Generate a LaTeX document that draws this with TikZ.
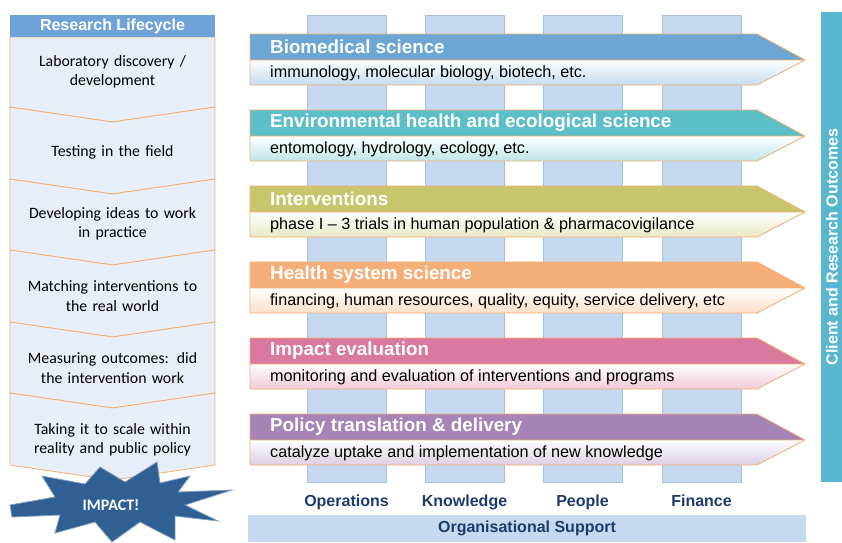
\documentclass[tikz,border=0pt]{standalone}
\usepackage{fontspec}
\setmainfont{Liberation Sans}
\newfontfamily\calfont{Carlito}
\definecolor{pillarblue}{HTML}{C6D9F0}
\definecolor{pillarline}{HTML}{A6C0E0}
\definecolor{headblue}{HTML}{6FA3D8}
\definecolor{stagefill}{HTML}{E8EEF7}
\definecolor{stageline}{HTML}{F2AE72}
\definecolor{burstblue}{HTML}{2F5F93}
\definecolor{outcomeblue}{HTML}{58B6CF}
\definecolor{navytext}{HTML}{1F3B6B}
\definecolor{colbio}{HTML}{6BA6D5}
\definecolor{colenv}{HTML}{5CBFC7}
\definecolor{colint}{HTML}{C8C66C}
\definecolor{colhss}{HTML}{F5AE78}
\definecolor{colimp}{HTML}{D9799F}
\definecolor{colpol}{HTML}{A684B6}

\begin{document}
\begin{tikzpicture}[x=1pt, y=-1pt,
                pillar/.style={fill=pillarblue, draw=pillarline, line width=0.6pt},
                stage/.style={fill=stagefill, draw=stageline, line width=0.8pt},
                stagetext/.style={font=\calfont\fontsize{15.8}{19.5}\selectfont, align=center, text width=185pt, inner sep=0pt},
                bandtitle/.style={font=\bfseries\fontsize{18.8}{20}\selectfont, text=white, anchor=west, inner sep=0pt},
                bandsub/.style={font=\fontsize{16.2}{18}\selectfont, anchor=west, inner sep=0pt},
                pillarlabel/.style={font=\bfseries\fontsize{16}{18}\selectfont, text=navytext, inner sep=0pt, anchor=base}]
                \tikzset{arrow line/.style={draw=stageline, line width=0.8pt, line join=round}}
                \useasboundingbox (0,0) rectangle (842,542);
                % support pillars
                \foreach \x/\lbl/\name in {307/Operations/ops, 425/Knowledge/know, 543/People/ppl, 662/Finance/fin} {
                    \draw[pillar] (\x,15) rectangle (\x+79,482);
                    \node[pillarlabel] (\name) at (\x+39.5,506) {\lbl};
                }
                % research lifecycle column
                \draw[stage] (10,37) -- (215,37) -- (215,107) -- (112.5,122) -- (10,107) -- cycle;
                \foreach \t/\b in {107/179, 179/250, 250/322, 322/393, 393/465}
                    \draw[stage] (10,\t) -- (112.5,\t+15) -- (215,\t) -- (215,\b) -- (112.5,\b+15) -- (10,\b) -- cycle;
                \node[fill=headblue, minimum width=205pt, minimum height=22pt, inner sep=0pt,
                      text=white, font=\bfseries\fontsize{16}{18}\selectfont] (head) at (112.5,26) {Research Lifecycle};
                \node[stagetext] (lab) at (112.5,72) {Laboratory discovery /\\ development};
                \node[stagetext] (field) at (112.5,152) {Testing in the field};
                \node[stagetext] (ideas) at (112.5,224) {Developing ideas to work\\ in practice};
                \node[stagetext] (match) at (112.5,296) {Matching interventions to\\ the real world};
                \node[stagetext] (measure) at (112.5,368) {Measuring outcomes: did\\ the intervention work};
                \node[stagetext] (scale) at (112.5,440) {Taking it to scale within\\ reality and public policy};
                % impact burst
                \filldraw[fill=burstblue, draw=burstblue!60, line width=0.8pt, line join=miter]
                    (10,505) -- (55,497) -- (42,476) -- (85,484) -- (100,467) -- (125,482) -- (157,462)
                    -- (160,483) -- (190,476) -- (178,492) -- (232,490) -- (185,505) -- (218,521)
                    -- (175,516) -- (175,540) -- (140,522) -- (112,542) -- (95,522) -- (55,533)
                    -- (60,515) -- (12,517) -- cycle;
                \node[text=white, font=\calfont\bfseries\fontsize{16}{18}\selectfont] (impact) at (111,505) {IMPACT!};
                % research streams
                \foreach \t/\col/\title/\sub [count=\i] in {
                    34/colbio/{Biomedical science}/{immunology, molecular biology, biotech, etc.},
                    110/colenv/{Environmental health and ecological science}/{entomology, hydrology, ecology, etc.},
                    186/colint/{Interventions}/{phase I -- 3 trials in human population \& pharmacovigilance},
                    262/colhss/{Health system science}/{financing, human resources, quality, equity, service delivery, etc},
                    338/colimp/{Impact evaluation}/{monitoring and evaluation of interventions and programs},
                    414/colpol/{Policy translation \& delivery}/{catalyze uptake and implementation of new knowledge}} {
                    \fill[\col] (250,\t) -- (757,\t) -- (805,\t+26) -- (250,\t+26) -- cycle;
                    \shade[top color=white, bottom color=\col!40] (250,\t+26) -- (805,\t+26) -- (757,\t+51) -- (250,\t+51) -- cycle;
                    \draw[arrow line] (250,\t) -- (757,\t) -- (805,\t+26) -- (757,\t+51) -- (250,\t+51) -- cycle
                        (250,\t+26) -- (805,\t+26);
                    \node[bandtitle] (title\i) at (270,\t+13) {\title};
                    \node[bandsub] (sub\i) at (270,\t+39) {\sub};
                }
                % outcomes and support
                \fill[outcomeblue] (821,12) rectangle (852,482);
                \node[rotate=90, text=white, font=\bfseries\fontsize{16}{18}\selectfont] (outcomes) at (832,247) {Client and Research Outcomes};
                \node[fill=pillarblue, minimum width=558pt, minimum height=27pt, inner sep=0pt,
                      text=navytext, font=\bfseries\fontsize{16}{18}\selectfont] (org) at (527,528.5) {Organisational Support};
            \end{tikzpicture}
\end{document}
